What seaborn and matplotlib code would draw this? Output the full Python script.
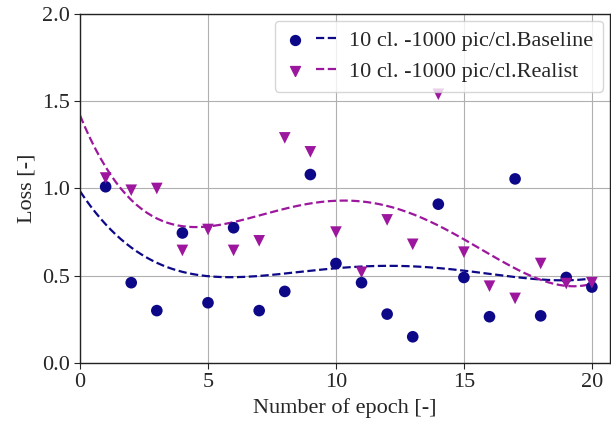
import numpy as np
import pandas as pd
import seaborn as sns
import matplotlib.pyplot as plt
from matplotlib.legend_handler import HandlerTuple

epochs = list(range(1, 21))
loss_baseline = [1.01, 0.46, 0.30, 0.745, 0.345, 0.775, 0.30, 0.41, 1.08, 0.57,
                 0.46, 0.28, 0.15, 0.91, 0.49, 0.265, 1.055, 0.27, 0.49, 0.435]
loss_realist = [1.06, 0.99, 1.00, 0.645, 0.765, 0.645, 0.70, 1.29, 1.21, 0.75,
                0.52, 0.82, 0.68, 1.54, 0.635, 0.44, 0.37, 0.57, 0.455, 0.46]
labels = ['10 cl. -1000 pic/cl.Baseline', '10 cl. -1000 pic/cl.Realist']
colors = ['#0d0887', '#9c179e']
markers = ['o', 'v']

sns.set_style('whitegrid')
plt.rcParams['font.family'] = ['Liberation Serif', 'DejaVu Serif']

fig, ax = plt.subplots(figsize=(6.11, 4.25), dpi=100)
fig.subplots_adjust(left=0.131, right=0.998, top=0.967, bottom=0.146)

x_fit = np.linspace(0, 20, 200)
handles = []
for series, lab, c, m in zip([loss_baseline, loss_realist], labels, colors, markers):
    df = pd.DataFrame({'epoch': epochs, 'loss': series})
    sns.scatterplot(data=df, x='epoch', y='loss', color=c, marker=m, s=70,
                    edgecolor='none', ax=ax, zorder=3)
    # polynomial trend through the points
    coef = np.polyfit(df['epoch'], df['loss'], 4)
    fit = pd.DataFrame({'epoch': x_fit, 'loss': np.polyval(coef, x_fit)})
    sns.lineplot(data=fit, x='epoch', y='loss', color=c, linestyle='--',
                 linewidth=1.6, ax=ax, zorder=2)
    pt = ax.scatter([], [], color=c, marker=m, s=70)
    ln, = ax.plot([], [], color=c, linestyle='--', linewidth=1.6)
    handles.append((pt, ln))

ax.set_xlim(0, 20.7)
ax.set_ylim(0, 2.0)
ax.set_xticks([0, 5, 10, 15, 20])
ax.set_yticks([0.0, 0.5, 1.0, 1.5, 2.0])
ax.set_xlabel('Number of epoch [-]', fontsize=16)
ax.set_ylabel('Loss [-]', fontsize=16)
ax.tick_params(labelsize=16, direction='out', length=4, left=True, bottom=True)
ax.grid(True, color='#b0b0b0', linewidth=0.8)
for s in ax.spines.values():
    s.set_color('#222222')
    s.set_linewidth(1.0)

leg = ax.legend(handles, labels, handler_map={tuple: HandlerTuple(ndivide=None, pad=0.5)},
                loc='upper right', fontsize=16, handlelength=2.3, frameon=True,
                markerscale=0.85, borderpad=0.45, labelspacing=0.45, handletextpad=0.6,
                borderaxespad=0.3)
leg.set_zorder(5)

fig.savefig('out.png', dpi=100)
